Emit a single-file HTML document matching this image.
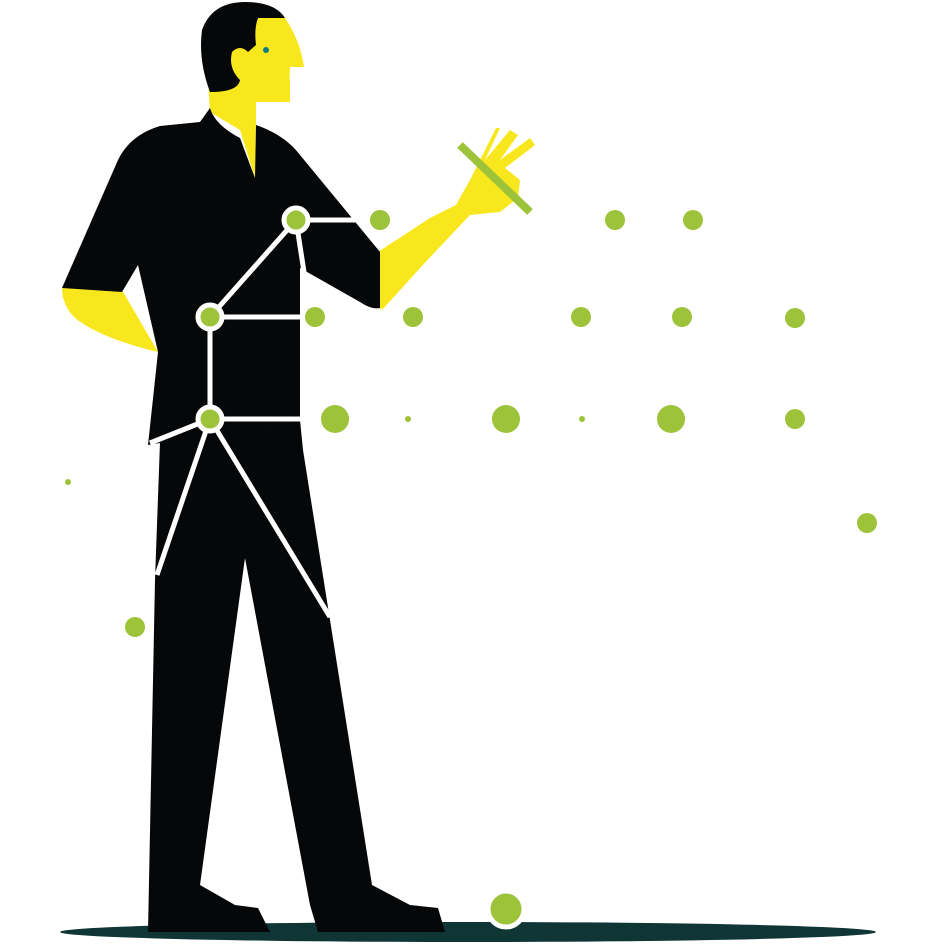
<!DOCTYPE html>
<html><head><meta charset="utf-8"><style>html,body{margin:0;padding:0;background:#fff}svg{display:block}</style></head>
<body>
<svg width="944" height="944" viewBox="0 0 944 944" xmlns="http://www.w3.org/2000/svg">
<ellipse cx="468" cy="932" rx="408" ry="10" fill="#0f3535"/>
<!-- right arm yellow -->
<polygon points="378,252 430,218 456,205 470,180 496,128 500,128 485,160 510,130 518,135 500,160 530,138 535,145 505,168 520,180 518,198 500,212 470,215 380,310" fill="#f9e71e"/>
<polygon points="380,258 420,226 460,224 382,310" fill="#f9e71e"/>
<!-- neck -->
<polygon points="208,80 256,80 258,100 290,102 290,80 256,80 256,125 255,178 240,130 210,112" fill="#f9e71e"/>
<rect x="224" y="38" width="40" height="60" fill="#f9e71e"/>
<!-- face -->
<path d="M255,18 L285,18 Q300,40 304,67 L290,67 L289,102 L256,102 L248,90 Z" fill="#f9e71e"/>
<!-- hair -->
<path d="M210,92 Q198,60 202,30 Q212,2 245,2 Q275,2 285,18 L258,18 Q254,28 256,45 L248,52 Q240,44 232,52 Q228,68 240,80 Q238,92 210,92 Z" fill="#060708"/>
<circle cx="266" cy="50" r="3" fill="#0e7d80"/>
<!-- left hand yellow -->
<path d="M62,288 L122,290 L158,352 Q100,338 75,318 Q62,305 62,288 Z" fill="#f9e71e"/>
<!-- pants -->
<polygon points="160,442 300,420 303,450 330,620 372,885 410,905 438,908 445,932 318,932 310,905 245,558 200,885 235,905 258,908 270,932 148,932 155,580" fill="#060708"/>
<!-- torso -->
<path d="M210,108 L200,122 L160,126 Q130,135 118,160 L62,288 L122,292 L138,265 L158,352 L148,445 L300,420 L300,268 L360,302 Q372,310 380,308 L380,252 L300,155 Q285,135 256,125 L255,178 L240,138 Q215,125 210,108 Z" fill="#060708"/>
<!-- skeleton -->
<g stroke="#fff" stroke-width="5" fill="none">
<line x1="296" y1="220" x2="360" y2="220"/>
<line x1="296" y1="220" x2="210" y2="317"/>
<line x1="296" y1="220" x2="304" y2="272"/>
<line x1="210" y1="317" x2="300" y2="317"/>
<line x1="210" y1="317" x2="210" y2="419"/>
<line x1="210" y1="419" x2="302" y2="419"/>
<line x1="210" y1="419" x2="150" y2="443"/>
<line x1="210" y1="419" x2="157" y2="575"/>
<line x1="210" y1="419" x2="330" y2="617"/>
</g>
<g fill="#9dc33b" stroke="#fff" stroke-width="5">
<circle cx="296" cy="220" r="12"/>
<circle cx="210" cy="317" r="12"/>
<circle cx="210" cy="419" r="12"/>
<circle cx="506" cy="909" r="18"/>
</g>
<line x1="460" y1="145" x2="530" y2="212" stroke="#9dc33b" stroke-width="8"/>
<g fill="#9dc33b">
<circle cx="380" cy="220" r="10"/><circle cx="615" cy="220" r="10"/><circle cx="693" cy="220" r="10"/>
<circle cx="315" cy="317" r="10"/><circle cx="413" cy="317" r="10"/><circle cx="581" cy="317" r="10"/><circle cx="682" cy="317" r="10"/><circle cx="795" cy="318" r="10"/>
<circle cx="335" cy="419" r="14"/><circle cx="408" cy="419" r="3"/><circle cx="506" cy="419" r="14"/><circle cx="582" cy="419" r="3"/><circle cx="671" cy="419" r="14"/><circle cx="795" cy="419" r="10"/>
<circle cx="867" cy="523" r="10"/><circle cx="135" cy="627" r="10"/><circle cx="68" cy="482" r="3"/>
</g>
</svg>
</body></html>
